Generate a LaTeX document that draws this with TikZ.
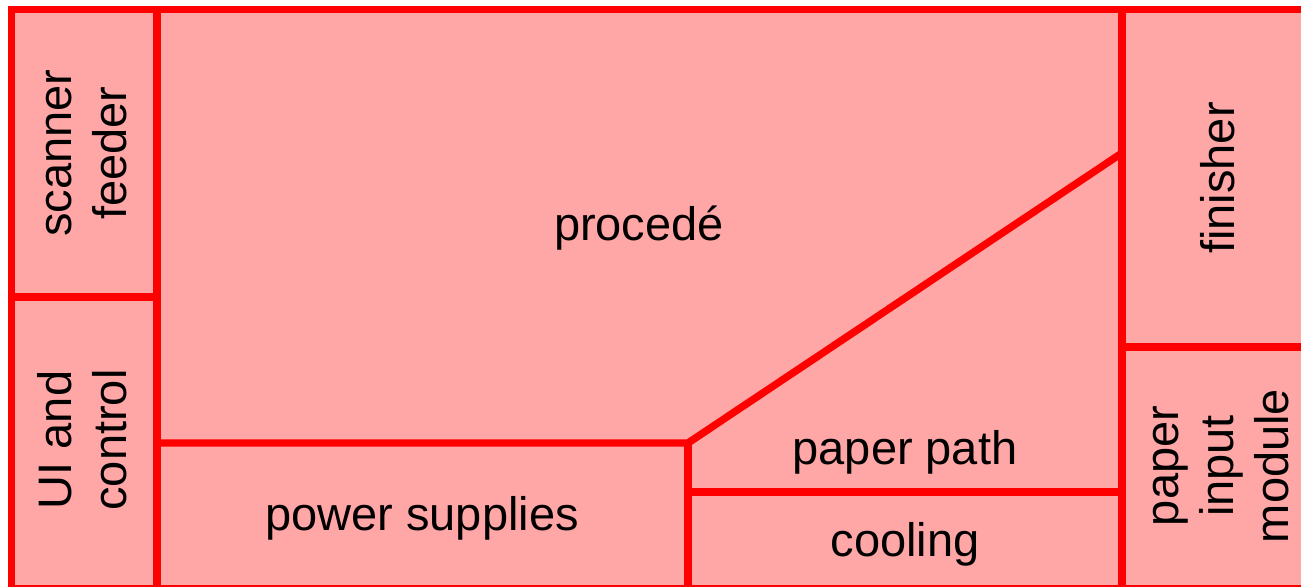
\documentclass[tikz,border=0pt]{standalone}
\usepackage{fontspec}
\setmainfont{Liberation Sans}

\begin{document}
\begin{tikzpicture}[x=0.5pt, y=-0.5pt,
    wall/.style={draw=red, line width=3.7pt},
    lbl/.style={font=\fontsize{23.5}{27.5}\selectfont, align=center, inner sep=0pt}]
  \useasboundingbox (0,0) rectangle (1301,587);

  % outline and partitions
  \draw [wall, fill=red!35] (11.5,9.5) rectangle (1306,588.5);
  \draw [wall] (157,9.5) -- (157,588.5);
  \draw [wall] (11.5,297) -- (157,297);
  \draw [wall] (1122,9.5) -- (1122,588.5);
  \draw [wall] (1122,347) -- (1306,347);
  \draw [wall] (157,443) -- (688,443) -- (1122,153);
  \draw [wall] (688,443) -- (688,588.5);
  \draw [wall] (688,492) -- (1122,492);

  % labels
  \node [lbl, rotate=90] (scan) at (87,153) {scanner\\feeder};
  \node [lbl, rotate=90] (ui) at (82,440) {UI and\\control};
  \node [lbl] (proc) at (639,228) {procedé};
  \node [lbl, rotate=90] (fin) at (1218,178) {finisher};
  \node [lbl, rotate=90] (pim) at (1221,466) {paper\\input\\module};
  \node [lbl] (pow) at (422,518) {power supplies};
  \node [lbl] (path) at (905,452) {paper path};
  \node [lbl] (cool) at (905,544) {cooling};
\end{tikzpicture}
\end{document}
